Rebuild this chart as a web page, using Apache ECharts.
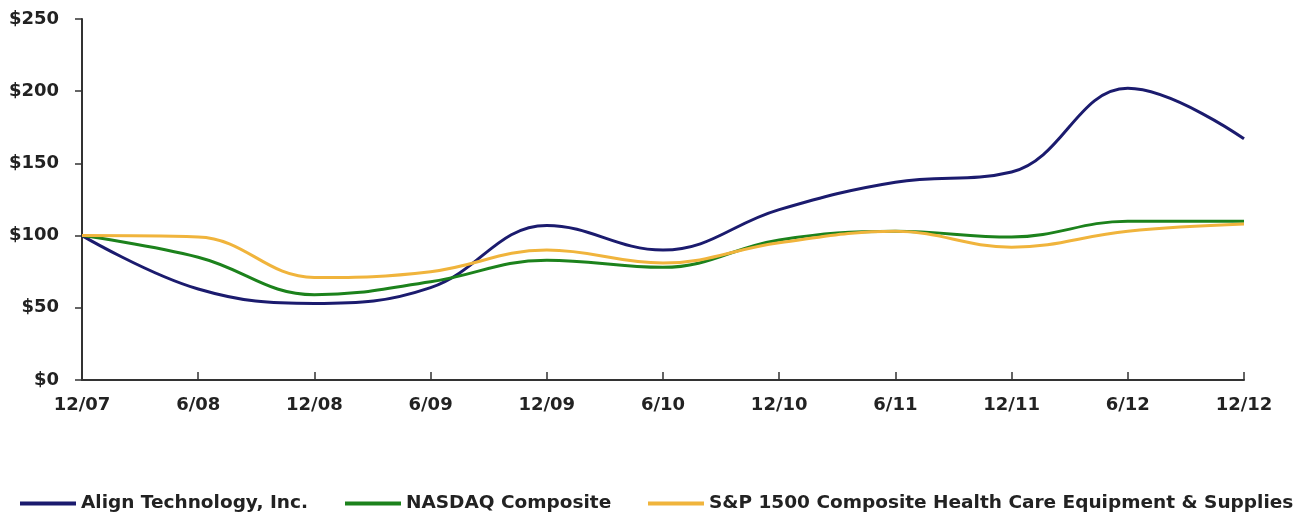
<!DOCTYPE html>
<html>
<head>
<meta charset="utf-8">
<script src="https://cdn.jsdelivr.net/npm/echarts@6/dist/echarts.min.js"></script>
<style>
  html, body { margin: 0; padding: 0; background: #fff; }
  #chart { width: 1299px; height: 517px; }
</style>
</head>
<body>
<div id="chart"></div>
<script>
// periods (half years)
var periods = ['12/07', '6/08', '12/08', '6/09', '12/09', '6/10', '12/10', '6/11', '12/11', '6/12', '12/12'];

// cumulative value of $100 invested
var alignTech = [100, 63, 53, 64, 107, 90, 118, 137, 144, 202, 167];
var nasdaq = [100, 85, 59, 68, 83, 78, 97, 103, 99, 110, 110];
var spHealthCare = [100, 99, 71, 75, 90, 81, 95, 103, 92, 103, 108];

var seriesNames = [
  'Align Technology, Inc.',
  'NASDAQ Composite',
  'S&P 1500 Composite Health Care Equipment & Supplies'
];

var font = 'DejaVu Sans';

var chart = echarts.init(document.getElementById('chart'));

function mkLine(name, data, color) {
  return {
    name: name,
    type: 'line',
    data: data,
    smooth: 0.4,
    symbol: 'none',
    lineStyle: { color: color, width: 3 },
    itemStyle: { color: color }
  };
}

// one legend per entry so each can sit where the original puts it
function mkLegend(name, left) {
  return {
    left: left,
    top: 489,
    width: 700,
    icon: 'rect',
    itemWidth: 56,
    itemHeight: 4,
    textStyle: { fontFamily: font, fontWeight: 'bold', fontSize: 18.5, color: '#222' },
    data: [name]
  };
}

var option = {
  animation: false,
  grid: { left: 82, right: 55, top: 19, bottom: 137 },
  legend: [
    mkLegend(seriesNames[0], 15),
    mkLegend(seriesNames[1], 340),
    mkLegend(seriesNames[2], 643)
  ],
  xAxis: {
    type: 'category',
    boundaryGap: false,
    data: periods,
    axisLine: { lineStyle: { color: '#333', width: 2 } },
    axisTick: { inside: true, length: 8, lineStyle: { color: '#333', width: 1.5 } },
    axisLabel: { fontFamily: font, fontWeight: 'bold', fontSize: 18, color: '#222', margin: 16 }
  },
  yAxis: {
    type: 'value',
    min: 0,
    max: 250,
    interval: 50,
    axisLine: { show: true, lineStyle: { color: '#333', width: 2 } },
    axisTick: { show: true, length: 7, lineStyle: { color: '#333', width: 1.5 } },
    splitLine: { show: false },
    axisLabel: {
      fontFamily: font, fontWeight: 'bold', fontSize: 18, color: '#222', margin: 23,
      formatter: function (v) { return '$' + v; }
    }
  },
  series: [
    mkLine(seriesNames[0], alignTech, '#1b1b6e'),
    mkLine(seriesNames[1], nasdaq, '#1c821c'),
    mkLine(seriesNames[2], spHealthCare, '#f0b43c')
  ]
};

chart.setOption(option);
</script>
</body>
</html>
